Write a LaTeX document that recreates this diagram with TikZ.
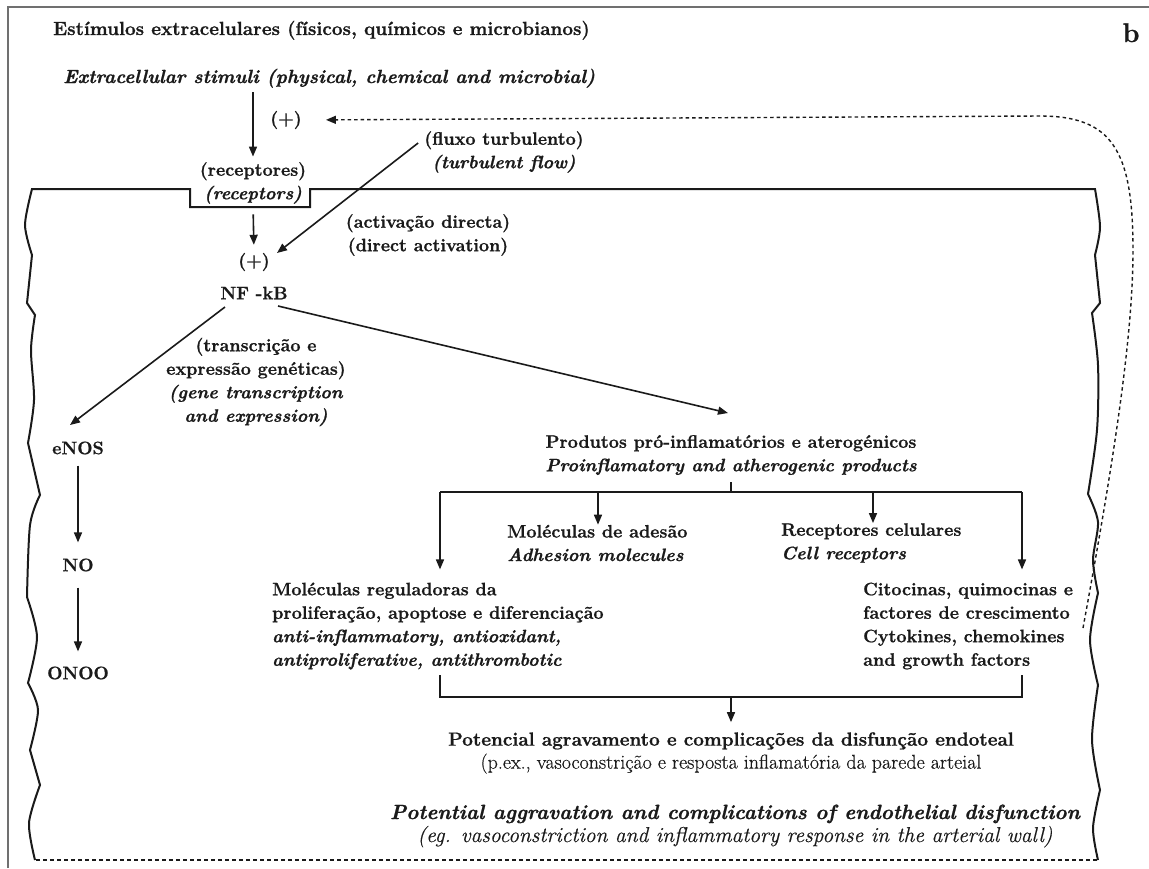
\documentclass[tikz,border=0pt]{standalone}
\usepackage{fontspec}
\setmainfont{Latin Modern Roman}[
  UprightFeatures={FakeBold=0.4},
  ItalicFeatures={FakeBold=0.4},
  BoldFeatures={FakeBold=1.0},
  BoldItalicFeatures={FakeBold=1.0}]
\usetikzlibrary{arrows.meta}
\definecolor{ink}{HTML}{1A1A1A}
\definecolor{framegray}{HTML}{707070}
\begin{document}
\begin{tikzpicture}[x=1pt,y=-1pt,
  txt/.style={inner sep=0pt, text=ink, font=\fontsize{18}{23.5}\selectfont\bfseries},
  ttl/.style={inner sep=0pt, text=ink, font=\fontsize{19}{23}\selectfont\bfseries},
  ttli/.style={inner sep=0pt, text=ink, font=\fontsize{19}{23}\selectfont\bfseries\itshape},
  bot/.style={inner sep=0pt, text=ink, font=\fontsize{19}{23}\selectfont\bfseries, align=center},
  arr/.style={draw=ink, line width=1.6pt, -{Triangle[length=10pt,width=8pt]}},
  ln/.style={draw=ink, line width=1.6pt},
  wall/.style={draw=ink, line width=2pt, line join=miter},
  fbline/.style={draw=ink, line width=1.4pt, dash pattern=on 3.5pt off 3pt, -{Triangle[length=10pt,width=8pt]}},
]
\useasboundingbox (0,0) rectangle (1149,868);
\fill[white] (0,0) rectangle (1149,868);

% outer frame (partly visible)
\draw[framegray, line width=1.2pt] (8,868) -- (8,7) -- (1149,7);

% texts
\node[ttl, anchor=base west] (title) at (53,35) {Estímulos extracelulares (físicos, químicos e microbianos)};
\node[inner sep=0pt, text=ink, font=\fontsize{27}{30}\selectfont\bfseries, anchor=base] (blabel) at (1131,42) {b};
\node[ttli, anchor=base west] (stim) at (63,83) {Extracellular stimuli (physical, chemical and microbial)};
\node[txt] (plus1) at (286,120) {(+)};
\node[txt, align=center] (recep) at (253,183) {(receptores)\\\textit{(receptors)}};
\node[txt, align=center] (turb) at (504,152) {(fluxo turbulento)\\\textit{(turbulent flow)}};
\node[txt, align=center] (activ) at (428,235) {(activação directa)\\(direct activation)};
\node[txt] (plus2) at (254,262) {(+)};
\node[txt] (nfkb) at (254,293) {NF -kB};
\node[txt, align=center] (trans) at (256,382) {(transcrição e\\expressão genéticas)\\\textit{(gene transcription}\\\textit{and expression)}};
\node[txt] (enos) at (78,448) {eNOS};
\node[txt] (no) at (78,565) {NO};
\node[txt] (onoo) at (78,673) {ONOO};
\node[txt, align=center] (prod) at (731,455) {Produtos pró-inflamatórios e aterogénicos\\\textit{Proinflamatory and atherogenic products}};
\node[txt, align=left, anchor=west] (adh) at (507,543) {Moléculas de adesão\\\textit{Adhesion molecules}};
\node[txt, align=left, anchor=west] (rec) at (781,543) {Receptores celulares\\\textit{Cell receptors}};
\node[txt, align=left, anchor=west] (reg) at (272,626) {Moléculas reguladoras da\\proliferação, apoptose e diferenciação\\\textit{anti-inflammatory, antioxidant,}\\\textit{antiproliferative, antithrombotic}};
\node[txt, align=left, anchor=west] (cito) at (863,626) {Citocinas, quimocinas e\\factores de crescimento\\Cytokines, chemokines\\and growth factors};
\node[bot] (pot) at (731,753) {Potencial agravamento e complicações da disfunção endoteal\\{\fontsize{20}{23}\selectfont\mdseries (p.ex., vasoconstrição e resposta inflamatória da parede arteial}};
\node[bot] (poten) at (735,826) {{\fontsize{20.6}{23}\selectfont\itshape Potential aggravation and complications of endothelial disfunction}\\{\fontsize{21.5}{23}\selectfont\mdseries\itshape (eg. vasoconstriction and inflammatory response in the arterial wall)}};

% cell wall
\draw[wall]
  plot[smooth] coordinates {(35,860) (29,823) (40,785)} -- (30,750)
  -- plot[smooth] coordinates {(30,750) (38,710) (28,683)}
  -- plot[smooth] coordinates {(28,683) (37,637) (27,597)}
  -- plot[smooth] coordinates {(27,597) (30,525) (40,495)} -- (28,443)
  -- plot[smooth] coordinates {(28,443) (34,400) (31,350) (35,315)} -- (27,303) -- (32,255)
  -- plot[smooth] coordinates {(32,255) (25,225) (32,189)}
  -- (190,189) -- (190,207) -- (310,207) -- (310,189) -- (1095,189)
  -- plot[smooth] coordinates {(1095,189) (1100,227) (1095,255)} -- (1100,303) -- (1092,313)
  -- plot[smooth] coordinates {(1092,313) (1098,365) (1097,430) (1088,494)}
  -- plot[smooth] coordinates {(1088,494) (1098,522) (1093,560) (1098,593)}
  -- plot[smooth] coordinates {(1098,593) (1090,640) (1098,685)}
  -- plot[smooth] coordinates {(1098,685) (1092,740) (1100,790)}
  -- plot[smooth] coordinates {(1100,790) (1093,828) (1098,860)};
\draw[ink, line width=1.5pt, dash pattern=on 4pt off 3pt] (36,860) -- (1097,860);

% connectors
\draw[arr, shorten <=4.5pt, shorten >=5.5pt] (recep.north |- stim.south) -- (recep.north);
\draw[arr, shorten <=10.5pt, shorten >=8pt] (recep.south) -- (plus2.north);
\draw[arr] ([shift={(-6,-9)}]turb.west) -- ([shift={(23,-9)}]plus2.center);
\draw[arr] ([shift={(-29,14)}]nfkb.center) -- ([shift={(-8,-23)}]enos.center);
\draw[arr] ([shift={(24,13)}]nfkb.center) -- ([shift={(-3,-42)}]prod.center);
\draw[arr, shorten <=11pt, shorten >=16pt] (enos.south) -- (no.north);
\draw[arr, shorten <=16pt, shorten >=15pt] (no.south) -- (onoo.north);

% feedback
\coordinate (fb) at (1083,628);
\draw[fbline, shorten >=24pt] (fb) .. controls (1112,470) and (1133,340) .. (1133,250)
  .. controls (1133,150) and (1112,116) .. (1040,116) -- (plus1.east);

% upper bracket
\coordinate (b0) at (731,492);
\coordinate (bl) at (440,492);
\coordinate (br) at (1022,492);
\coordinate (ba) at (598,492);
\coordinate (bc) at (873,492);
\draw[ln] (prod.south) ++(0,7) -- (b0);
\draw[ln] (bl) -- (br);
\draw[arr, shorten >=13pt] (bl) -- (bl |- reg.north);
\draw[arr, shorten >=13pt] (br) -- (br |- cito.north);
\draw[arr] (ba) -- (ba |- adh.north);
\draw[arr] (bc) -- (bc |- rec.north);

% lower bracket
\coordinate (lt1) at (440,675);
\coordinate (ll) at (440,697);
\coordinate (lr) at (1022,697);
\coordinate (lt2) at (1022,675);
\coordinate (lm) at (731,697);
\draw[ln] (lt1) -- (ll) -- (lr) -- (lt2);
\draw[arr, shorten >=10pt] (lm) -- (pot.north);
\end{tikzpicture}
\end{document}
